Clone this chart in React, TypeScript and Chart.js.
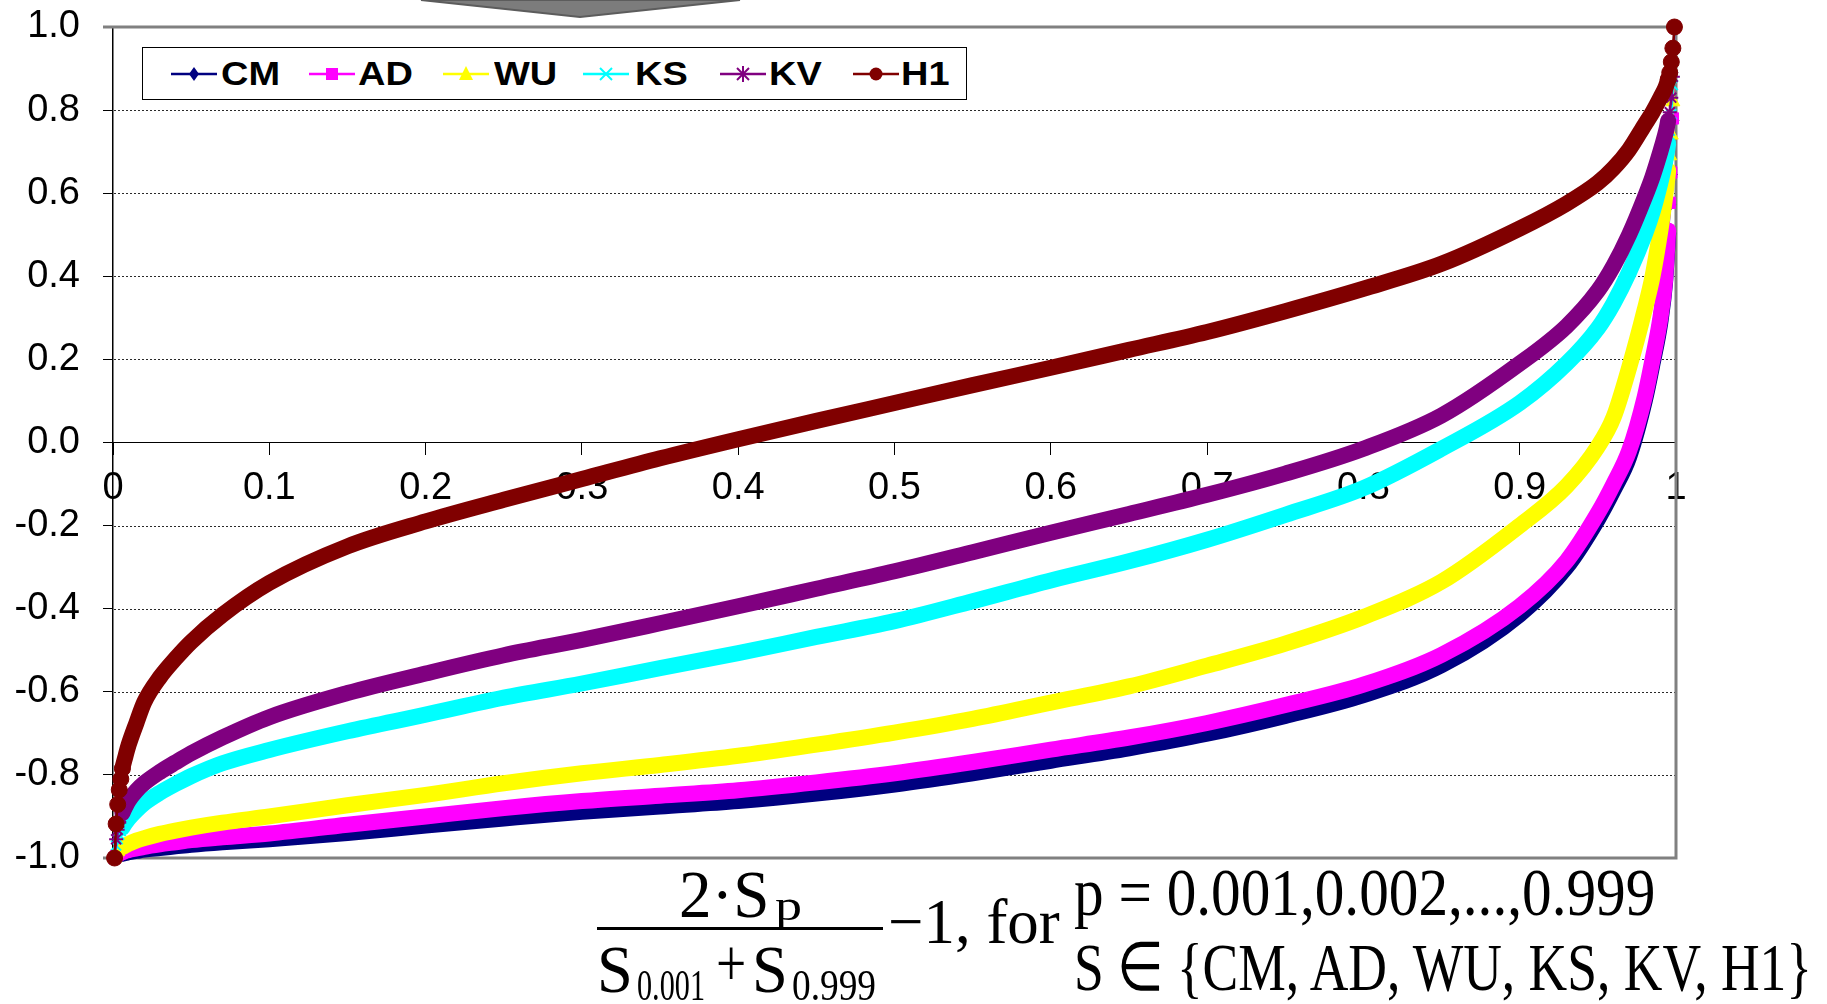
import React, { useEffect, useLayoutEffect, useRef } from "react";
import { Chart, registerables } from "chart.js";

Chart.register(...registerables);

// ---------- data ----------
const P = [
  0.001, 0.002, 0.003, 0.004, 0.005, 0.006, 0.008, 0.01, 0.015, 0.02,
  0.03, 0.04, 0.05, 0.07, 0.1, 0.15, 0.2, 0.25, 0.3, 0.35,
  0.4, 0.45, 0.5, 0.55, 0.6, 0.65, 0.7, 0.75, 0.8, 0.85,
  0.9, 0.93, 0.95, 0.96, 0.97, 0.98, 0.985, 0.99, 0.993, 0.994,
  0.995, 0.996, 0.997, 0.998, 0.999,
];

const CM = [
  -1.0, -0.997, -0.995, -0.993, -0.991, -0.99, -0.988, -0.986, -0.983, -0.98,
  -0.976, -0.972, -0.968, -0.962, -0.955, -0.94, -0.922, -0.905, -0.889, -0.876,
  -0.863, -0.845, -0.823, -0.796, -0.766, -0.736, -0.701, -0.658, -0.608, -0.536,
  -0.414, -0.3, -0.185, -0.115, -0.035, 0.1, 0.19, 0.29, 0.385, 0.443,
  0.505, 0.572, 0.645, 0.775, 1.0,
];

const AD = [
  -1.0, -0.995, -0.992, -0.99, -0.988, -0.986, -0.983, -0.981, -0.977, -0.973,
  -0.967, -0.962, -0.957, -0.95, -0.941, -0.92, -0.9, -0.88, -0.863, -0.85,
  -0.837, -0.818, -0.796, -0.769, -0.739, -0.71, -0.675, -0.632, -0.583, -0.511,
  -0.394, -0.285, -0.17, -0.1, -0.02, 0.11, 0.2, 0.3, 0.39, 0.447,
  0.51, 0.577, 0.65, 0.78, 1.0,
];

const WU = [
  -1.0, -0.99, -0.985, -0.98, -0.977, -0.974, -0.97, -0.966, -0.958, -0.952,
  -0.942, -0.934, -0.927, -0.915, -0.9, -0.873, -0.848, -0.82, -0.796, -0.776,
  -0.754, -0.727, -0.698, -0.665, -0.626, -0.587, -0.537, -0.484, -0.42, -0.335,
  -0.2, -0.105, -0.01, 0.06, 0.18, 0.32, 0.4, 0.51, 0.59, 0.62,
  0.655, 0.69, 0.74, 0.82, 1.0,
];

const KS = [
  -1.0, -0.97, -0.955, -0.944, -0.935, -0.927, -0.915, -0.905, -0.885, -0.868,
  -0.843, -0.822, -0.803, -0.772, -0.74, -0.695, -0.655, -0.614, -0.58, -0.543,
  -0.507, -0.468, -0.43, -0.382, -0.332, -0.286, -0.234, -0.174, -0.11, -0.015,
  0.095, 0.19, 0.275, 0.335, 0.41, 0.5, 0.555, 0.625, 0.675, 0.695,
  0.72, 0.75, 0.79, 0.86, 1.0,
];

const KV = [
  -1.0, -0.955, -0.932, -0.915, -0.902, -0.892, -0.876, -0.862, -0.838, -0.82,
  -0.793, -0.77, -0.748, -0.71, -0.661, -0.603, -0.556, -0.512, -0.475, -0.435,
  -0.394, -0.352, -0.31, -0.264, -0.217, -0.172, -0.126, -0.075, -0.015, 0.065,
  0.19, 0.28, 0.365, 0.425, 0.5, 0.59, 0.64, 0.7, 0.74, 0.755,
  0.775, 0.795, 0.83, 0.88, 1.0,
];

const H1 = [
  -1.0, -0.918, -0.871, -0.836, -0.81, -0.785, -0.755, -0.728, -0.675, -0.625,
  -0.565, -0.52, -0.48, -0.415, -0.338, -0.25, -0.19, -0.138, -0.088, -0.038,
  0.008, 0.052, 0.095, 0.138, 0.18, 0.223, 0.266, 0.316, 0.37, 0.43,
  0.515, 0.575, 0.625, 0.66, 0.705, 0.765, 0.795, 0.83, 0.852, 0.862,
  0.874, 0.89, 0.916, 0.949, 1.0,
];

const SERIES_NAMES = ["CM", "AD", "WU", "KS", "KV", "H1"];
const X_TICKS = [0, 0.1, 0.2, 0.3, 0.4, 0.5, 0.6, 0.7, 0.8, 0.9, 1];
const X_TICK_LABELS = ["0", "0.1", "0.2", "0.3", "0.4", "0.5", "0.6", "0.7", "0.8", "0.9", "1"];
const Y_TICKS = [-1, -0.8, -0.6, -0.4, -0.2, 0, 0.2, 0.4, 0.6, 0.8, 1];
const Y_TICK_LABELS = ["-1.0", "-0.8", "-0.6", "-0.4", "-0.2", "0.0", "0.2", "0.4", "0.6", "0.8", "1.0"];
const GRID_VALUES = [-0.8, -0.6, -0.4, -0.2, 0.2, 0.4, 0.6, 0.8];

// ---------- styles ----------
const COLORS = ["#000080", "#FF00FF", "#FFFF00", "#00FFFF", "#800080", "#800000"];
const POINT_STYLES = ["rectRot", "rect", "triangle", "crossRot", "star", "circle"];
const POINT_RADII = [6, 8, 8, 7, 7, 8];
const SERIES_DATA = [CM, AD, WU, KS, KV, H1];
const BAND_WIDTH = 16;

const SANS = "'Liberation Sans', Arial, sans-serif";
const SERIF = "'Liberation Serif', 'Times New Roman', serif";

const framePlugin = {
  id: "frame",
  beforeDatasetsDraw(chart: any) {
    const { ctx, scales } = chart;
    const x = scales.x;
    const y = scales.y;
    const left = x.getPixelForValue(0);
    const right = x.getPixelForValue(1);
    const top = y.getPixelForValue(1);
    const bottom = y.getPixelForValue(-1);
    ctx.save();
    ctx.strokeStyle = "#2a2a2a";
    ctx.lineWidth = 1;
    ctx.setLineDash([2, 2]);
    for (const v of GRID_VALUES) {
      const py = Math.round(y.getPixelForValue(v)) + 0.5;
      ctx.beginPath();
      ctx.moveTo(left + 1, py);
      ctx.lineTo(right, py);
      ctx.stroke();
    }
    ctx.setLineDash([]);
    ctx.strokeStyle = "#808080";
    ctx.lineWidth = 3;
    ctx.beginPath();
    ctx.moveTo(left - 10, top);
    ctx.lineTo(right, top);
    ctx.lineTo(right, bottom);
    ctx.lineTo(left - 10, bottom);
    ctx.stroke();
    ctx.restore();
  },
};

function FitText(props: {
  left: number;
  baseline: number;
  width: number;
  size: number;
  family: string;
  weight?: string | number;
  asc: number;
  children: React.ReactNode;
}) {
  const ref = useRef<HTMLSpanElement>(null);
  useLayoutEffect(() => {
    const el = ref.current;
    if (!el) return;
    const natural = el.offsetWidth;
    if (natural > 0) el.style.transform = `scaleX(${props.width / natural})`;
  }, [props.width]);
  return (
    <span
      ref={ref}
      style={{
        position: "absolute",
        left: props.left,
        top: props.baseline - props.asc * props.size,
        fontSize: props.size,
        lineHeight: `${props.size}px`,
        fontFamily: props.family,
        fontWeight: props.weight ?? "normal",
        whiteSpace: "nowrap",
        display: "inline-block",
        transformOrigin: "0 0",
        color: "#000",
      }}
    >
      {props.children}
    </span>
  );
}

const SERIF_ASC = 0.8375;

function LegendIcon({ kind, color, left }: { kind: string; color: string; left: number }) {
  const w = 46;
  const c = w / 2;
  let marker: React.ReactNode = null;
  if (kind === "rectRot") marker = <polygon points={`${c},4 ${c + 5},11 ${c},18 ${c - 5},11`} fill={color} />;
  if (kind === "rect") marker = <rect x={c - 6} y={5} width={12} height={12} fill={color} />;
  if (kind === "triangle") marker = <polygon points={`${c},3 ${c + 7},17 ${c - 7},17`} fill={color} />;
  if (kind === "crossRot")
    marker = (
      <g stroke={color} strokeWidth={2}>
        <line x1={c - 6} y1={5} x2={c + 6} y2={17} />
        <line x1={c + 6} y1={5} x2={c - 6} y2={17} />
      </g>
    );
  if (kind === "star")
    marker = (
      <g stroke={color} strokeWidth={2}>
        <line x1={c - 6} y1={5} x2={c + 6} y2={17} />
        <line x1={c + 6} y1={5} x2={c - 6} y2={17} />
        <line x1={c} y1={3} x2={c} y2={19} />
      </g>
    );
  if (kind === "circle") marker = <circle cx={c} cy={11} r={6.5} fill={color} />;
  return (
    <svg
      width={w}
      height={22}
      style={{ position: "absolute", left, top: 73.5 - 11, overflow: "visible" }}
    >
      <line x1={0} y1={11} x2={w} y2={11} stroke={color} strokeWidth={2.5} />
      {marker}
    </svg>
  );
}

const LEGEND_ICON_X = [171, 309, 443, 583, 720, 853];
const LEGEND_TEXT_X = [221, 358, 494, 635, 769, 901];

export default function App() {
  const canvasRef = useRef<HTMLCanvasElement>(null);

  useEffect(() => {
    const canvas = canvasRef.current;
    if (!canvas) return;
    const datasets = SERIES_NAMES.map((name, s) => ({
      label: name,
      data: P.map((p, i) => ({ x: p, y: SERIES_DATA[s][i] })),
      borderColor: COLORS[s],
      backgroundColor: COLORS[s],
      pointBackgroundColor: COLORS[s],
      pointBorderColor: COLORS[s],
      pointStyle: POINT_STYLES[s],
      pointRadius: (c: any) => {
        const p = P[c.dataIndex];
        return p <= 0.0061 || p >= 0.9949 ? POINT_RADII[s] : 0;
      },
      pointBorderWidth: POINT_STYLES[s] === "crossRot" || POINT_STYLES[s] === "star" ? 2 : 1,
      borderWidth: BAND_WIDTH,
      segment: {
        borderWidth: (c: any) =>
          c.p1.parsed.x <= 0.0061 || c.p0.parsed.x >= 0.9949 ? 2.5 : BAND_WIDTH,
      },
      cubicInterpolationMode: "monotone",
      borderJoinStyle: "round",
      borderCapStyle: "round",
      clip: false,
      order: 6 - s,
    }));

    const chart = new Chart(canvas, {
      type: "line",
      data: { datasets } as any,
      options: {
        animation: false,
        responsive: false,
        devicePixelRatio: 1,
        events: [],
        layout: { padding: { left: 0, top: 27, right: 151, bottom: 146 } },
        plugins: {
          legend: { display: false },
          tooltip: { enabled: false },
          title: { display: false },
        },
        scales: {
          x: {
            type: "linear",
            position: { y: 0 } as any,
            min: 0,
            max: 1,
            afterBuildTicks: (sc: any) => {
              sc.ticks = X_TICKS.map((v) => ({ value: v }));
            },
            ticks: {
              autoSkip: false,
              maxRotation: 0,
              color: "#000",
              font: { family: SANS, size: 38, lineHeight: 1.65 },
              callback: (_v: any, i: number) => X_TICK_LABELS[i],
            },
            grid: {
              drawOnChartArea: false,
              drawTicks: true,
              tickLength: 12,
              tickColor: "#000",
              tickWidth: 1,
            },
            border: { display: true, color: "#000", width: 1 },
          },
          y: {
            type: "linear",
            position: "left",
            min: -1,
            max: 1,
            afterBuildTicks: (sc: any) => {
              sc.ticks = Y_TICKS.map((v) => ({ value: v }));
            },
            afterFit: (sc: any) => {
              sc.width = 113;
            },
            ticks: {
              autoSkip: false,
              color: "#000",
              padding: 23,
              font: { family: SANS, size: 38, lineHeight: 0.1 },
              callback: (_v: any, i: number) => Y_TICK_LABELS[i],
            },
            grid: {
              drawOnChartArea: false,
              drawTicks: true,
              tickLength: 10,
              tickColor: "#000",
              tickWidth: 1,
            },
            border: { display: true, color: "#000", width: 1.5 },
          },
        },
      } as any,
      plugins: [framePlugin],
    });
    return () => chart.destroy();
  }, []);

  return (
    <div
      style={{
        position: "fixed",
        left: 0,
        top: 0,
        width: 1827,
        height: 1004,
        background: "#fff",
        overflow: "hidden",
      }}
    >
      <canvas
        ref={canvasRef}
        width={1827}
        height={1004}
        style={{ position: "absolute", left: 0, top: 0, width: 1827, height: 1004 }}
      />

      {/* cut-off arrow shape at the top */}
      <svg width={1827} height={30} style={{ position: "absolute", left: 0, top: 0 }}>
        <polygon points="421,0 580,17 740,0" fill="#7c7c7c" stroke="#5c5c5c" strokeWidth={2} />
      </svg>

      {/* legend */}
      <div
        style={{
          position: "absolute",
          left: 142,
          top: 47,
          width: 825,
          height: 53,
          boxSizing: "border-box",
          border: "1px solid #000",
          background: "#fff",
        }}
      />
      {SERIES_NAMES.map((name, s) => (
        <React.Fragment key={name}>
          <LegendIcon kind={POINT_STYLES[s]} color={COLORS[s]} left={LEGEND_ICON_X[s]} />
          <span
            style={{
              position: "absolute",
              left: LEGEND_TEXT_X[s],
              top: 57,
              fontFamily: SANS,
              fontWeight: "bold",
              fontSize: 33,
              lineHeight: "33px",
              whiteSpace: "nowrap",
              display: "inline-block",
              transform: "scaleX(1.15)",
              transformOrigin: "0 0",
              color: "#000",
            }}
          >
            {name}
          </span>
        </React.Fragment>
      ))}

      {/* formula */}
      <FitText left={679} baseline={917} width={90} size={68} family={SERIF} asc={SERIF_ASC}>
        2·S
      </FitText>
      <FitText left={775} baseline={921} width={27} size={44} family={SERIF} asc={SERIF_ASC}>
        p
      </FitText>
      <div style={{ position: "absolute", left: 597, top: 927, width: 286, height: 3, background: "#000" }} />
      <FitText left={597} baseline={992} width={36} size={68} family={SERIF} asc={SERIF_ASC}>
        S
      </FitText>
      <FitText left={637} baseline={1001} width={68} size={44} family={SERIF} asc={SERIF_ASC}>
        0.001
      </FitText>
      <FitText left={716} baseline={986} width={30} size={68} family={SERIF} asc={SERIF_ASC}>
        +
      </FitText>
      <FitText left={752} baseline={992} width={36} size={68} family={SERIF} asc={SERIF_ASC}>
        S
      </FitText>
      <FitText left={792} baseline={1001} width={84} size={44} family={SERIF} asc={SERIF_ASC}>
        0.999
      </FitText>
      <FitText left={888} baseline={944} width={172} size={64} family={SERIF} asc={SERIF_ASC}>
        −1, for
      </FitText>
      <FitText left={1074} baseline={915} width={581} size={68} family={SERIF} asc={SERIF_ASC}>
        p = 0.001,0.002,...,0.999
      </FitText>
      <FitText left={1074} baseline={990} width={738} size={68} family={SERIF} asc={SERIF_ASC}>
        S ∈ {"{"}CM, AD, WU, KS, KV, H1{"}"}
      </FitText>
    </div>
  );
}
